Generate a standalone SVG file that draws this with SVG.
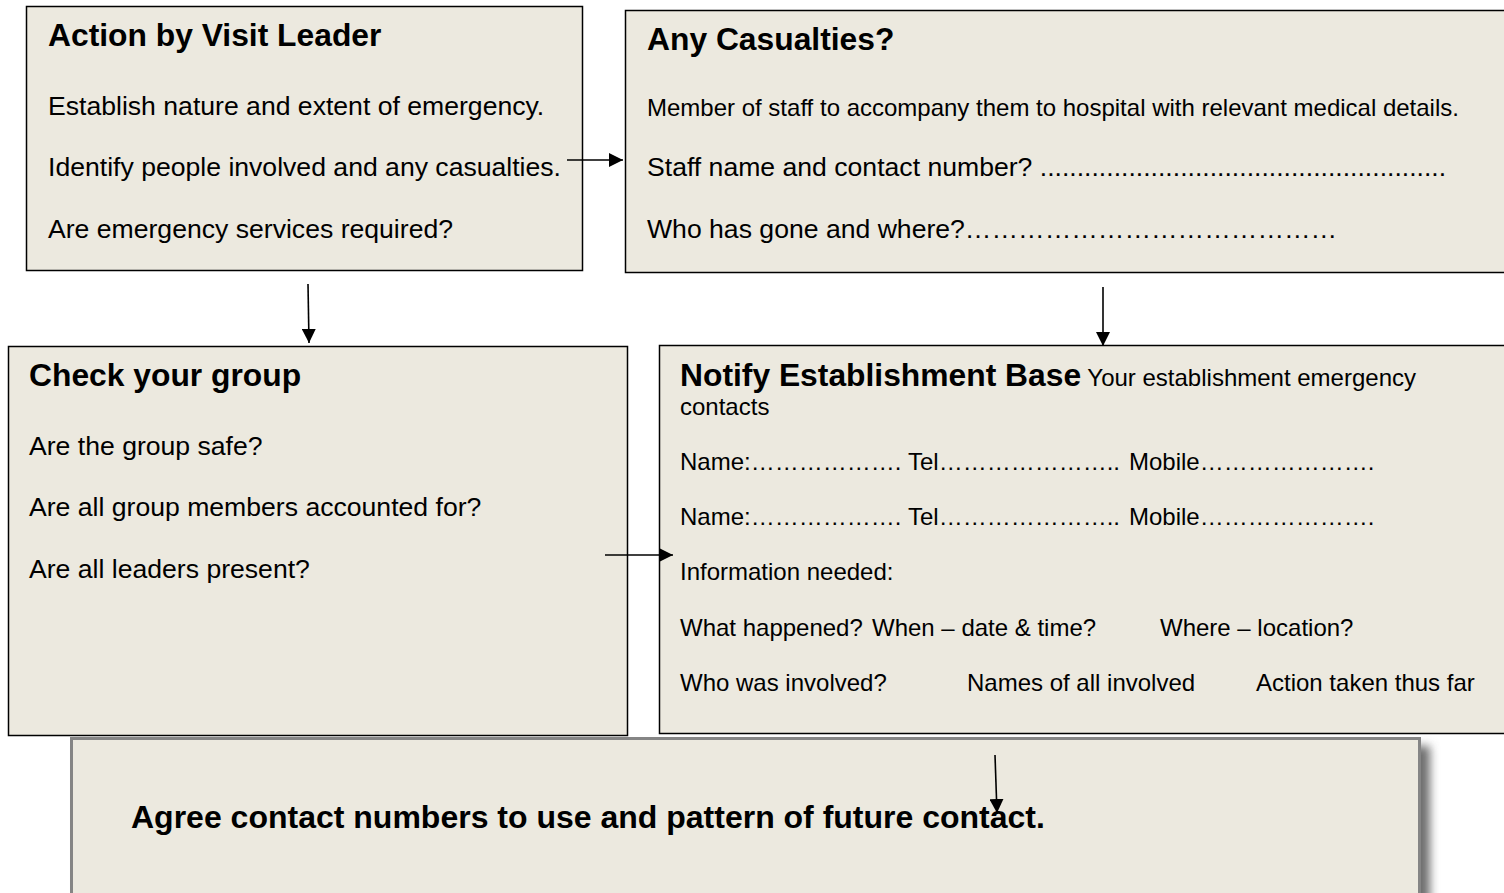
<svg xmlns="http://www.w3.org/2000/svg" width="1504" height="893" viewBox="0 0 1504 893">
<style>
.box{fill:#ECE9DF;stroke:#000;stroke-width:1.5}
.t{font-family:"Liberation Sans",Arial,sans-serif;fill:#000}
.h{font-weight:bold;font-size:31.8px}
.b{font-size:26.6px}
.s{font-size:24px}
.c{stroke:#000;stroke-width:1.6;fill:none;marker-end:url(#ah)}
</style>
<defs>
<marker id="ah" viewBox="0 0 14 14" refX="14" refY="7" markerWidth="14" markerHeight="14" markerUnits="userSpaceOnUse" orient="auto">
<path d="M0,0 L14,7 L0,14 Z" fill="#000"/>
</marker>
<filter id="sh" x="-5%" y="-20%" width="110%" height="140%">
<feGaussianBlur stdDeviation="5"/>
</filter>
</defs>
<rect width="1504" height="893" fill="#fff"/>

<g id="visit-leader">
<rect class="box" x="26.5" y="6.5" width="556" height="264"/>
<text class="t h" x="48" y="46">Action by Visit Leader</text>
<text class="t b" x="48" y="115">Establish nature and extent of emergency.</text>
<text class="t b" x="48" y="176">Identify people involved and any casualties.</text>
<text class="t b" x="48" y="238">Are emergency services required?</text>
</g>

<g id="casualties">
<rect class="box" x="625.5" y="10.5" width="890" height="262"/>
<text class="t h" x="647" y="50">Any Casualties?</text>
<text class="t s" x="647" y="116">Member of staff to accompany them to hospital with relevant medical details.</text>
<text class="t b" x="647" y="176">Staff name and contact number? .......................................................</text>
<text class="t b" x="647" y="238">Who has gone and where?&#8230;&#8230;&#8230;&#8230;&#8230;&#8230;&#8230;&#8230;&#8230;&#8230;&#8230;&#8230;&#8230;&#8230;</text>
</g>

<g id="check-group">
<rect class="box" x="8.5" y="346.5" width="619" height="389"/>
<text class="t h" x="29" y="386">Check your group</text>
<text class="t b" x="29" y="455">Are the group safe?</text>
<text class="t b" x="29" y="516">Are all group members accounted for?</text>
<text class="t b" x="29" y="578">Are all leaders present?</text>
</g>

<g id="notify-base">
<rect class="box" x="659.5" y="345.5" width="860" height="388"/>
<text class="t" x="680" y="386"><tspan class="h">Notify Establishment Base</tspan><tspan class="s"> Your establishment emergency</tspan></text>
<text class="t s" x="680" y="415">contacts</text>
<text class="t s" y="470"><tspan x="680">Name:&#8230;&#8230;&#8230;&#8230;&#8230;&#8230;.</tspan><tspan x="908">Tel&#8230;&#8230;&#8230;&#8230;&#8230;&#8230;&#8230;..</tspan><tspan x="1129">Mobile&#8230;&#8230;&#8230;&#8230;&#8230;&#8230;&#8230;.</tspan></text>
<text class="t s" y="525"><tspan x="680">Name:&#8230;&#8230;&#8230;&#8230;&#8230;&#8230;.</tspan><tspan x="908">Tel&#8230;&#8230;&#8230;&#8230;&#8230;&#8230;&#8230;..</tspan><tspan x="1129">Mobile&#8230;&#8230;&#8230;&#8230;&#8230;&#8230;&#8230;.</tspan></text>
<text class="t s" x="680" y="580">Information needed:</text>
<text class="t s" y="636"><tspan x="680">What happened?</tspan><tspan x="872">When – date &amp; time?</tspan><tspan x="1160">Where – location?</tspan></text>
<text class="t s" y="691"><tspan x="680">Who was involved?</tspan><tspan x="967">Names of all involved</tspan><tspan x="1256">Action taken thus far</tspan></text>
</g>

<g id="agree-contact">
<rect x="80" y="746" width="1350" height="180" fill="#6e6e6e" filter="url(#sh)"/>
<rect x="71.5" y="738.5" width="1348" height="170" fill="#ECE9DF" stroke="#858585" stroke-width="3"/>
<text class="t h" x="131" y="828" style="font-size:32px">Agree contact numbers to use and pattern of future contact.</text>
</g>

<g id="connectors">
<line class="c" x1="567" y1="160" x2="623" y2="160"/>
<line class="c" x1="308" y1="284" x2="309" y2="343"/>
<line class="c" x1="1103" y1="287" x2="1103" y2="346"/>
<line class="c" x1="605" y1="555" x2="673" y2="555"/>
<line class="c" x1="995" y1="755" x2="997" y2="813"/>
</g>
</svg>
